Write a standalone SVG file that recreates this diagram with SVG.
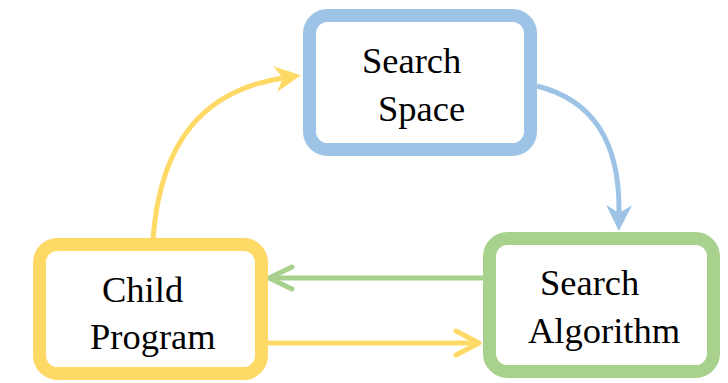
<svg xmlns="http://www.w3.org/2000/svg" width="728" height="383" viewBox="0 0 728 383">
  <style>
    .box { fill: #ffffff; stroke-width: 13; }
    .label { font-family: "Liberation Serif", "Times New Roman", serif; font-size: 36.5px; fill: #000000; }
    .link { fill: none; stroke-width: 5; }
  </style>
  <defs>
    <!-- filled arrowhead with notched back; origin at the notch -->
    <marker id="stealth-yellow" markerUnits="userSpaceOnUse" viewBox="-10 -15 30 30" refX="0" refY="0" markerWidth="30" markerHeight="30" orient="auto">
      <path d="M18,0 L-8,-13 L0,0 L-8,13 Z" fill="#FFD966"/>
    </marker>
    <marker id="stealth-blue" markerUnits="userSpaceOnUse" viewBox="-10 -15 30 30" refX="0" refY="0" markerWidth="30" markerHeight="30" orient="auto">
      <path d="M18,0 L-8,-13 L0,0 L-8,13 Z" fill="#9DC3E6"/>
    </marker>
    <!-- open chevron arrowheads; origin at the tip -->
    <marker id="open-green" markerUnits="userSpaceOnUse" viewBox="-28 -16 32 32" refX="0" refY="0" markerWidth="32" markerHeight="32" orient="auto">
      <path d="M-23,-11 L0,0 L-23,11" fill="none" stroke="#A9D18E" stroke-width="5" stroke-linecap="round" stroke-linejoin="round"/>
    </marker>
    <marker id="open-yellow" markerUnits="userSpaceOnUse" viewBox="-28 -16 32 32" refX="0" refY="0" markerWidth="32" markerHeight="32" orient="auto">
      <path d="M-23,-12 L0,0 L-23,12" fill="none" stroke="#FFD966" stroke-width="5" stroke-linecap="round" stroke-linejoin="round"/>
    </marker>
  </defs>

  <g id="connectors">
    <path class="link" stroke="#FFD966" d="M153,240 C160,140 205,90 283,78" marker-end="url(#stealth-yellow)"/>
    <path class="link" stroke="#9DC3E6" d="M537,86 C592,100 620,140 619,213" marker-end="url(#stealth-blue)"/>
    <path class="link" stroke="#A9D18E" d="M483,278 L269,278" marker-end="url(#open-green)"/>
    <path class="link" stroke="#FFD966" d="M268,343 L479,343" marker-end="url(#open-yellow)"/>
  </g>

  <g id="search-space">
    <rect class="box" x="309.5" y="15.5" width="221" height="134" rx="18" stroke="#9DC3E6"/>
    <text class="label" x="362" y="73">Search</text>
    <text class="label" x="378" y="121">Space</text>
  </g>

  <g id="child-program">
    <rect class="box" x="39.5" y="244.5" width="222" height="129" rx="18" stroke="#FFD966"/>
    <text class="label" x="102" y="302">Child</text>
    <text class="label" x="90" y="349">Program</text>
  </g>

  <g id="search-algorithm">
    <rect class="box" x="489.5" y="238.5" width="224" height="133" rx="18" stroke="#A9D18E"/>
    <text class="label" x="540" y="295">Search</text>
    <text class="label" x="528" y="343">Algorithm</text>
  </g>
</svg>
